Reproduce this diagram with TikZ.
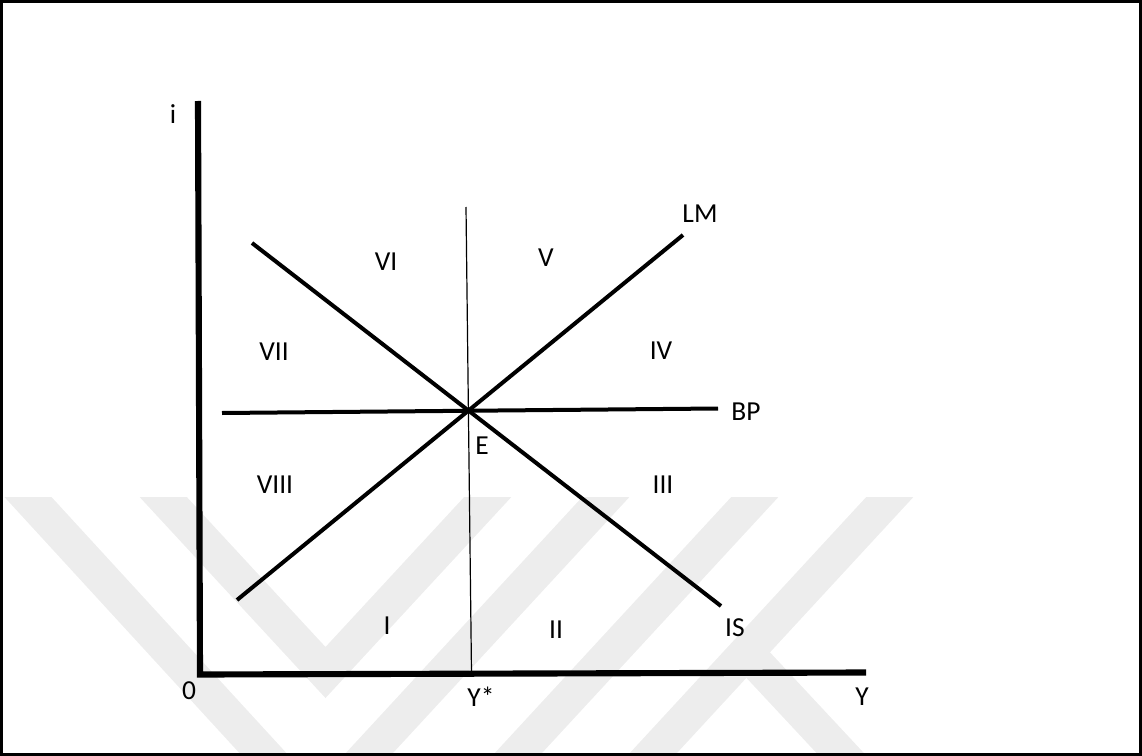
\documentclass[tikz,border=0pt]{standalone}
\usepackage{fontspec}
\setmainfont{Carlito}
\usetikzlibrary{positioning}
\tikzset{
  axis/.style={line width=4.6pt, line join=miter},
  curve/.style={line width=3pt},
  guide/.style={line width=0.9pt},
  lbl/.style={inner sep=0pt, font=\fontsize{20.6}{24}\selectfont},
  wmark/.style={black!7, line width=26pt, line join=miter},
}
\begin{document}
\begin{tikzpicture}[x=0.75pt, y=-0.75pt]
    \useasboundingbox (0,0) rectangle (1142,756);

    % Watermark
    \begin{scope}
        \clip (3,497) rectangle (1139,753);
        \draw[wmark] (-6,460) -- (306,800);
        \draw[wmark] (129,460) -- (325.5,672.5) -- (522,460);
        \draw[wmark] (640,460) -- (326,800);
        \draw[wmark] (789,460) -- (475,800);
        \draw[wmark] (924,460) -- (610,800);
        \draw[wmark] (746,652) -- (884,800);
    \end{scope}

    % Frame
    \draw[line width=2.2pt] (1.5,1.5) rectangle (1140.5,754.5);

    % Axes
    \coordinate (itop) at (198,101);
    \coordinate (orig) at (200,674.5);
    \coordinate (yend) at (866,672.5);
    \draw[axis] (itop) -- (orig) -- (yend);
    \node[lbl] (ilab) at (173,114) {i};
    \node[lbl] (olab) at (189,691) {0};
    \node[lbl] (ylab) at (862,697) {Y};

    % Full employment output
    \coordinate (ystop) at (466,207);
    \coordinate (ysbot) at (471.5,673);
    \draw[guide] (ystop) -- (ysbot);
    \node[lbl] (yslab) at (481,697) {Y*};

    % LM, IS and BP
    \coordinate (lmlo) at (237,600);
    \coordinate (lmhi) at (683,235);
    \coordinate (ishi) at (252,243);
    \coordinate (islo) at (721,606);
    \coordinate (bpl) at (222,413);
    \coordinate (bpr) at (718,408.5);
    \draw[curve] (lmlo) -- (lmhi);
    \draw[curve] (ishi) -- (islo);
    \draw[curve] (bpl) -- (bpr);
    \node[lbl] (lmlab) at (700,214) {LM};
    \node[lbl] (islab) at (735,628) {IS};
    \node[lbl] (bplab) at (746,412) {BP};
    \node[lbl] (elab) at (482,446) {E};

    % Regions
    \foreach \nm/\x/\y/\txt in {r1/387/626/I, r2/556/630/II, r3/663/485/III,
        r4/661/351/IV, r5/546/258/V, r6/386/262/VI, r7/274/352/VII, r8/275/485/VIII}
        \node[lbl] (\nm) at (\x,\y) {\txt};
\end{tikzpicture}
\end{document}
